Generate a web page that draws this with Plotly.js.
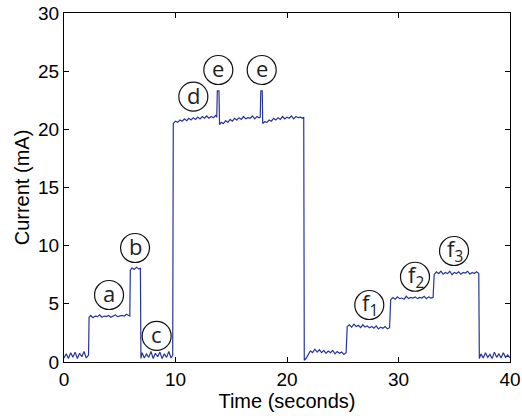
<!DOCTYPE html>
<html>
<head>
<meta charset="utf-8">
<script src="https://cdn.plot.ly/plotly-3.0.1.min.js"></script>
<style>html,body{margin:0;padding:0;background:#fff;}#plot{width:522px;height:416px;}</style>
</head>
<body>
<div id="plot"></div>
<script>
// Time samples (seconds)
var timeS = [
  0,0.2,0.4,0.6,0.8,1.0,1.2,1.4,1.6,1.8,2.0,2.2,
  2.25,2.4,2.6,2.8,3.0,3.2,3.4,3.6,3.8,4.0,4.2,4.4,4.6,4.8,5.0,5.2,5.4,5.6,5.8,5.9,
  5.95,6.1,6.3,6.5,6.7,6.85,
  6.9,7.0,7.2,7.4,7.6,7.8,8.0,8.2,8.4,8.6,8.8,9.0,9.2,9.4,9.6,9.75,
  9.8,10.0,10.2,10.4,10.6,10.8,11.0,11.2,11.4,11.6,11.8,12.0,12.2,12.4,12.6,12.8,13.0,13.2,13.4,13.6,13.7,
  13.75,13.9,
  13.95,14.1,14.3,14.5,14.7,14.9,15.1,15.3,15.5,15.7,15.9,16.1,16.3,16.5,16.7,16.9,17.1,17.3,17.5,17.6,
  17.65,17.78,
  17.82,18.0,18.2,18.4,18.6,18.8,19.0,19.2,19.4,19.6,19.8,20.0,20.2,20.4,20.6,20.8,21.0,21.2,21.4,21.5,
  21.55,21.7,21.9,22.1,22.3,22.5,22.7,22.9,23.1,23.3,23.5,23.7,23.9,24.1,24.3,24.5,24.7,24.9,25.1,25.3,
  25.4,25.6,25.8,26.0,26.2,26.4,26.6,26.8,27.0,27.2,27.4,27.6,27.8,28.0,28.2,28.4,28.6,28.8,29.0,29.2,
  29.3,29.5,29.7,29.9,30.1,30.3,30.5,30.7,30.9,31.1,31.3,31.5,31.7,31.9,32.1,32.3,32.5,32.7,32.9,33.1,
  33.2,33.4,33.6,33.8,34.0,34.2,34.4,34.6,34.8,35.0,35.2,35.4,35.6,35.8,36.0,36.2,36.4,36.6,36.8,37.0,37.2,
  37.25,37.4,37.6,37.8,38.0,38.2,38.4,38.6,38.8,39.0,39.2,39.4,39.6,39.8,40.0
];
// Current (mA)
var currentMA = [
  0.35,0.7,0.3,0.8,0.4,0.85,0.3,0.75,0.45,0.9,0.35,0.6,
  3.85,4.0,3.8,3.95,3.9,4.05,3.85,3.95,3.9,4.0,3.85,3.95,4.05,3.9,3.95,4.0,3.95,4.1,4.0,3.95,
  7.9,8.1,7.95,8.15,8.0,8.05,
  0.3,0.8,0.35,0.7,0.4,0.9,0.3,0.75,0.45,0.85,0.3,0.7,0.4,0.9,0.35,0.6,
  20.5,20.7,20.6,20.8,20.7,20.9,20.75,20.95,20.8,21.0,20.85,21.05,20.9,21.1,20.95,21.15,20.95,21.1,21.0,21.2,21.05,
  23.3,23.3,
  20.4,20.6,20.5,20.75,20.6,20.85,20.7,20.95,20.8,21.0,20.85,21.1,20.9,21.0,20.95,21.15,20.9,21.1,21.0,21.05,
  23.3,23.3,
  20.5,20.65,20.6,20.8,20.7,20.95,20.8,21.0,20.85,21.1,20.9,21.05,20.95,21.15,20.9,21.1,21.0,21.05,20.95,21.05,
  0.15,0.3,0.65,0.95,0.8,1.1,0.85,1.05,0.8,1.0,0.75,0.95,0.8,1.0,0.7,0.9,0.75,0.85,0.65,0.8,
  3.05,3.2,3.0,3.25,3.05,3.15,2.95,3.2,3.0,3.1,2.95,3.05,2.9,3.1,2.85,3.0,2.9,3.05,2.85,2.95,
  5.35,5.55,5.4,5.6,5.45,5.5,5.4,5.65,5.45,5.55,5.5,5.6,5.45,5.55,5.5,5.65,5.45,5.6,5.5,5.55,
  7.5,7.75,7.6,7.8,7.55,7.7,7.6,7.8,7.5,7.7,7.6,7.75,7.55,7.7,7.65,7.8,7.55,7.7,7.6,7.75,7.6,
  0.3,0.7,0.35,0.8,0.4,0.65,0.3,0.85,0.4,0.7,0.35,0.8,0.4,0.6,0.35
];
// Circled labels
var labelText = ['a','b','c','d','e','e','f<sub>1</sub>','f<sub>2</sub>','f<sub>3</sub>'];
var labelX = [4.04, 6.37, 8.31, 11.6, 13.84, 17.73, 27.38, 31.48, 34.98];
var labelY = [5.76, 9.8, 2.24, 22.81, 25.1, 25.1, 4.9, 7.33, 9.54];
var xTicks = [0,10,20,30,40];
var yTicks = [0,5,10,15,20,25,30];

var shapes = [], annotations = [];
for (var i = 0; i < labelText.length; i++) {
  shapes.push({type:'circle', xref:'x', yref:'y', xsizemode:'pixel', ysizemode:'pixel',
    xanchor:labelX[i], yanchor:labelY[i], x0:-14.5, x1:14.5, y0:-14.5, y1:14.5,
    line:{color:'#111', width:1.2}, fillcolor:'rgba(255,255,255,0)'});
  annotations.push({x:labelX[i], y:labelY[i], xref:'x', yref:'y', text:labelText[i],
    showarrow:false, font:{family:'Open Sans, sans-serif', size:22, color:'#222'},
    yshift: (i >= 6 ? 1 : 2), xshift: (i >= 6 ? 1 : 0)});
}

var trace = {x: timeS, y: currentMA, type:'scatter', mode:'lines',
  line:{color:'#27359a', width:1.2}, hoverinfo:'skip'};

var fontFam = 'Liberation Sans, Arial, sans-serif';
var axisCommon = {showline:true, linecolor:'#000', linewidth:1, mirror:'ticks',
  ticks:'inside', ticklen:5, tickcolor:'#000', showgrid:false, zeroline:false,
  tickfont:{family:fontFam, size:19, color:'#000'}};

var layout = {
  width:522, height:416,
  margin:{l:64, r:12, t:13, b:54},
  paper_bgcolor:'#fff', plot_bgcolor:'#fff',
  showlegend:false,
  xaxis: Object.assign({}, axisCommon, {range:[0,40], tickvals:xTicks, ticktext:xTicks.map(String),
    title:{text:'Time (seconds)', font:{family:fontFam, size:20, color:'#000'}, standoff:1}}),
  yaxis: Object.assign({}, axisCommon, {range:[0,30], tickvals:yTicks, ticktext:yTicks.map(String),
    title:{text:'Current (mA)', font:{family:fontFam, size:20, color:'#000'}, standoff:3}}),
  shapes: shapes,
  annotations: annotations
};
Plotly.newPlot('plot', [trace], layout, {staticPlot:true, displayModeBar:false});
</script>
</body>
</html>
